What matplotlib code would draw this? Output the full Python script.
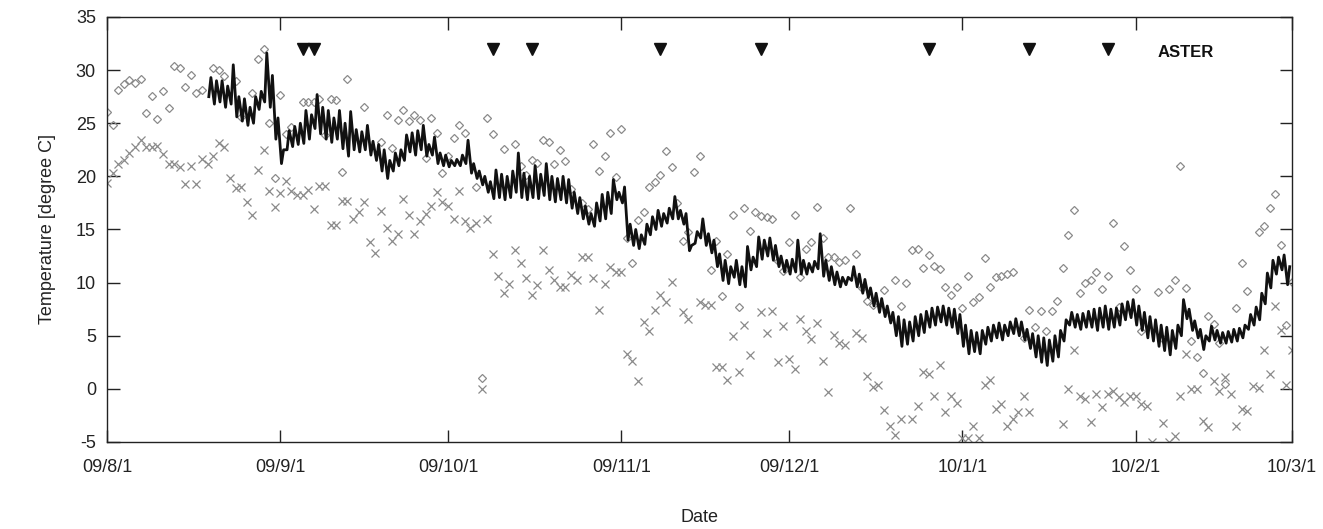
import numpy as np
import matplotlib
matplotlib.use("Agg")
import matplotlib.pyplot as plt

plt.rcParams['font.family'] = ['Liberation Sans', 'DejaVu Sans']
plt.rcParams['axes.unicode_minus'] = False

START = np.datetime64('2009-08-01')

# daily max air temperature (diamonds): day offset from 2009-08-01, value
max_days = [0, 1, 2, 3, 4, 5, 6, 7, 8, 9, 10, 11, 12, 13, 14, 15, 16, 17, 19, 20,
            21, 23, 24, 26, 27, 28, 29, 30, 31, 32, 33, 35, 36, 37, 38, 39, 40, 41, 42, 43,
            46, 49, 50, 51, 52, 53, 54, 55, 56, 57, 58, 59, 60, 61, 62, 63, 64, 66, 67, 68,
            69, 71, 73, 74, 75, 76, 77, 78, 79, 80, 81, 82, 83, 85, 86, 87, 88, 89, 90, 91,
            92, 93, 94, 95, 96, 97, 98, 99, 100, 101, 102, 103, 104, 105, 106, 108, 109, 110, 111, 112,
            113, 114, 115, 116, 117, 118, 119, 120, 121, 122, 123, 124, 125, 126, 127, 128, 129, 130, 131, 132,
            133, 134, 135, 136, 137, 139, 141, 142, 143, 144, 145, 146, 147, 148, 149, 150, 151, 152, 153, 154,
            155, 156, 157, 158, 159, 160, 161, 162, 164, 165, 166, 167, 168, 169, 170, 171, 172, 173, 174, 175,
            176, 177, 178, 179, 180, 181, 182, 183, 184, 185, 188, 189, 190, 191, 192, 193, 194, 195, 196, 197,
            198, 199, 200, 202, 203, 204, 206, 207, 208, 209, 210, 211, 212]
max_vals = [26.1, 24.8, 28.1, 28.7, 29.1, 28.8, 29.2, 26.0, 27.6, 25.4, 28.0, 26.4, 30.4, 30.2, 28.4, 29.5, 27.8, 28.1, 30.2, 30.0,
            29.4, 29.0, 25.6, 27.8, 31.0, 32.0, 25.0, 19.8, 27.7, 24.0, 24.6, 27.0, 27.0, 27.0, 27.3, 23.9, 27.3, 27.2, 20.4, 29.2,
            26.5, 23.2, 25.8, 22.7, 25.3, 26.2, 25.2, 25.8, 25.3, 21.7, 25.5, 24.1, 20.3, 21.9, 23.6, 24.8, 24.1, 19.0, 1.0, 25.5,
            24.0, 22.6, 23.0, 21.0, 20.1, 21.5, 21.3, 23.4, 23.2, 21.2, 22.5, 21.4, 18.8, 17.5, 16.9, 23.0, 20.5, 21.9, 24.1, 19.9,
            24.5, 14.2, 11.8, 15.9, 16.6, 19.0, 19.5, 20.1, 22.4, 20.9, 17.5, 13.9, 14.8, 20.4, 21.9, 11.2, 13.9, 8.7, 12.7, 16.4,
            7.7, 17.0, 14.9, 16.6, 16.3, 16.2, 16.0, 12.0, 11.1, 13.8, 16.4, 10.5, 13.2, 13.8, 17.1, 14.2, 12.4, 12.4, 11.9, 12.1,
            17.0, 12.7, 9.5, 8.3, 7.9, 9.3, 10.2, 7.8, 10.0, 13.1, 13.2, 11.4, 12.6, 11.6, 11.3, 9.6, 8.8, 9.6, 7.6, 10.6,
            8.2, 8.6, 12.3, 9.6, 10.5, 10.6, 10.8, 11.0, 4.8, 7.4, 5.8, 7.3, 5.4, 7.3, 8.3, 11.4, 14.5, 16.8, 9.0, 10.0,
            10.2, 11.0, 9.4, 10.6, 15.6, 7.7, 13.4, 11.2, 9.4, 5.4, 9.1, 4.7, 9.4, 10.2, 21.0, 9.5, 4.5, 3.0, 1.5, 6.9,
            6.1, 4.3, 0.5, 7.6, 11.8, 9.2, 14.8, 15.3, 17.0, 18.3, 13.5, 6.0, 10.1]

# daily min air temperature (crosses)
min_days = [0, 1, 2, 3, 4, 5, 6, 7, 8, 9, 10, 11, 12, 13, 14, 15, 16, 17, 18, 19,
            20, 21, 22, 23, 24, 25, 26, 27, 28, 29, 30, 31, 32, 33, 34, 35, 36, 37, 38, 39,
            40, 41, 42, 43, 44, 45, 46, 47, 48, 49, 50, 51, 52, 53, 54, 55, 56, 57, 58, 59,
            60, 61, 62, 63, 64, 65, 66, 67, 68, 69, 70, 71, 72, 73, 74, 75, 76, 77, 78, 79,
            80, 81, 82, 83, 84, 85, 86, 87, 88, 89, 90, 91, 92, 93, 94, 95, 96, 97, 98, 99,
            100, 101, 103, 104, 106, 107, 108, 109, 110, 111, 112, 113, 114, 115, 117, 118, 119, 120, 121, 122,
            123, 124, 125, 126, 127, 128, 129, 130, 131, 132, 134, 135, 136, 137, 138, 139, 140, 141, 142, 144,
            145, 146, 147, 148, 149, 150, 151, 152, 153, 154, 155, 156, 157, 158, 159, 160, 161, 162, 163, 164,
            165, 171, 172, 173, 174, 175, 176, 177, 178, 179, 180, 181, 182, 183, 184, 185, 186, 187, 189, 190,
            191, 192, 193, 194, 195, 196, 197, 198, 199, 200, 201, 202, 203, 204, 205, 206, 207, 208, 209, 210,
            211, 212]
min_vals = [19.4, 20.3, 21.2, 21.5, 22.2, 22.8, 23.4, 22.8, 22.8, 22.9, 22.1, 21.2, 21.2, 20.9, 19.3, 21.0, 19.3, 21.6, 21.2, 21.9,
            23.1, 22.8, 19.8, 18.9, 19.0, 17.6, 16.4, 20.6, 22.5, 18.6, 17.1, 18.4, 19.6, 18.6, 18.2, 18.2, 18.7, 16.9, 19.1, 19.1,
            15.4, 15.4, 17.7, 17.7, 16.0, 16.6, 17.6, 13.8, 12.8, 16.7, 15.1, 13.9, 14.6, 17.9, 16.4, 14.6, 15.8, 16.5, 17.2, 18.5,
            17.6, 17.2, 16.0, 18.6, 15.8, 15.1, 15.6, 0.0, 16.0, 12.7, 10.6, 9.0, 9.9, 13.1, 11.8, 10.4, 8.8, 9.8, 13.1, 11.2,
            10.2, 9.6, 9.6, 10.7, 10.2, 12.4, 12.4, 10.4, 7.4, 9.9, 11.5, 11.0, 11.0, 3.3, 2.6, 0.7, 6.3, 5.4, 7.4, 8.8,
            8.2, 10.1, 7.2, 6.6, 8.2, 7.9, 7.9, 2.1, 2.1, 0.8, 5.0, 1.6, 6.0, 3.2, 7.2, 5.3, 7.3, 2.5, 5.9, 2.8,
            1.9, 6.6, 5.4, 4.7, 6.2, 2.6, -0.3, 5.1, 4.3, 4.1, 5.3, 4.8, 1.2, 0.2, 0.4, -2.0, -3.5, -4.3, -2.8, -2.8,
            -1.6, 1.6, 1.4, -0.7, 2.2, -2.2, -0.7, -1.3, -4.6, -4.6, -3.5, -4.6, 0.4, 0.8, -1.9, -1.4, -3.5, -2.8, -2.2, -0.7,
            -2.2, -3.3, 0.0, 3.7, -0.7, -1.0, -3.1, -0.5, -1.7, -0.5, -0.2, -0.8, -1.2, -0.7, -0.7, -1.4, -1.6, -5.0, -3.2, -5.0,
            -4.4, -0.7, 3.3, 0.0, 0.0, -3.0, -3.6, 0.7, -0.2, 1.1, -0.5, -3.5, -1.9, -2.1, 0.3, 0.1, 3.7, 1.4, 7.8, 5.5,
            0.4, 3.7]

# continuous record: daily low / high of the curve, days 18..211
line_first_day = 18
line_lo = [27.5, 26.8, 27.0, 26.5, 26.8, 25.6, 25.2, 24.8, 25.0, 26.3,   # 18-27
           27.0, 26.5, 23.5, 21.2, 22.5, 22.8, 23.0, 23.1, 23.5, 24.5,   # 28-37
           24.0, 23.5, 23.2, 23.5, 22.6, 21.9, 22.5, 22.3, 22.5, 22.0,   # 38-47
           21.5, 20.5, 19.8, 20.5, 21.0, 21.5, 22.3, 22.0, 22.5, 21.9,   # 48-57
           22.0, 21.2, 21.0, 20.9, 21.0, 21.0, 21.2, 20.3, 19.8, 19.2,   # 58-67
           18.5, 17.9, 18.0, 17.8, 18.0, 18.5, 18.0, 17.8, 18.0, 17.9,   # 68-77
           18.2, 17.8, 17.6, 17.8, 17.5, 17.0, 16.5, 16.0, 15.5, 15.3,   # 78-87
           15.8, 16.0, 16.5, 17.8, 17.5, 14.0, 13.5, 13.2, 13.6, 14.5,   # 88-97
           15.0, 15.3, 15.6, 16.0, 16.0, 15.5, 13.0, 13.7, 14.2, 13.5,   # 98-107
           12.8, 11.5, 10.2, 9.9, 10.5, 9.8, 9.6, 11.2, 11.5, 12.2,      # 108-117
           12.5, 12.1, 11.5, 11.0, 10.8, 11.0, 10.8, 10.8, 11.0, 11.3,   # 118-127
           10.6, 10.2, 9.8, 9.6, 9.8, 10.2, 9.6, 9.0, 8.6, 7.8,          # 128-137
           7.2, 6.8, 6.2, 5.0, 4.0, 4.2, 4.5, 5.0, 5.3, 5.8,             # 138-147
           6.0, 6.3, 6.0, 5.8, 5.2, 4.0, 3.3, 3.5, 3.3, 4.2,             # 148-157
           4.5, 4.8, 4.6, 5.0, 5.2, 5.0, 4.6, 3.8, 3.0, 2.5,             # 158-167
           2.2, 2.6, 3.0, 4.5, 6.0, 5.8, 5.6, 5.8, 5.8, 5.5,             # 168-177
           5.8, 5.6, 5.8, 6.0, 6.5, 6.7, 6.0, 5.5, 4.8, 4.5,             # 178-187
           4.0, 3.6, 3.2, 3.8, 5.0, 6.6, 5.5, 4.8, 3.7, 4.5,             # 188-197
           4.6, 4.3, 4.3, 4.4, 4.5, 4.8, 5.6, 6.0, 6.5, 8.0,             # 198-207
           9.5, 10.8, 11.2, 9.8]                                         # 208-211
line_hi = [29.3, 29.0, 29.0, 28.5, 30.5, 27.5, 27.3, 26.5, 27.5, 28.0,
           31.6, 29.5, 25.5, 22.5, 24.3, 24.7, 25.0, 26.2, 25.8, 27.7,
           26.5, 26.2, 25.5, 26.2, 25.0, 26.1, 24.4, 24.2, 24.8, 23.3,
           23.0, 22.5, 21.5, 22.2, 22.5, 23.9, 24.1, 24.3, 24.8, 23.0,
           23.7, 22.2, 22.0, 21.5, 21.6, 22.0, 23.4, 21.2, 20.5, 20.0,
           19.5, 20.6, 20.2, 20.0, 20.5, 22.2, 20.3, 20.0, 21.0, 20.2,
           21.2, 20.0, 19.8, 20.0, 19.7, 18.5, 18.0, 17.2, 16.5, 17.5,
           18.3, 18.5, 19.7, 18.5, 19.0, 15.5, 15.0, 14.5, 15.5, 16.2,
           16.8, 16.5, 17.0, 18.1, 16.8, 16.5, 13.5, 14.8, 16.0, 14.6,
           14.0, 12.7, 12.1, 11.5, 12.1, 11.5, 13.4, 12.4, 14.3, 14.0,
           14.2, 13.5, 12.5, 12.1, 12.2, 14.0, 12.1, 11.8, 12.0, 14.6,
           12.1, 11.5, 11.0, 10.5, 10.5, 11.5, 10.8, 10.3, 9.5, 9.0,
           8.5, 7.8, 7.2, 6.8, 6.5, 6.3, 6.8, 7.0, 7.3, 7.6,
           7.7, 7.8, 7.6, 7.5, 7.0, 6.0, 5.5, 5.3, 5.5, 5.8,
           6.0, 6.2, 6.0, 6.3, 6.6, 6.3, 5.6, 5.2, 5.0, 4.8,
           4.6, 5.0, 5.5, 6.5, 7.2, 7.0, 7.1, 7.3, 7.5, 7.6,
           7.8, 7.5, 7.6, 8.0, 8.2, 8.4, 7.8, 7.2, 6.8, 6.5,
           6.0, 5.8, 5.5, 6.0, 8.4, 7.5, 6.4, 5.6, 5.0, 5.9,
           5.5, 5.3, 5.4, 5.6, 5.7, 6.0, 7.0, 7.7, 9.0, 10.9,
           12.1, 12.4, 12.6, 11.5]

# ASTER overpass days
aster_days = [35, 37, 69, 76, 99, 117, 147, 165, 179]
aster_level = 32.0

month_ticks = ['2009-08-01', '2009-09-01', '2009-10-01', '2009-11-01',
               '2009-12-01', '2010-01-01', '2010-02-01', '2010-03-01']
month_labels = ['09/8/1', '09/9/1', '09/10/1', '09/11/1',
                '09/12/1', '10/1/1', '10/2/1', '10/3/1']


def to_dates(days, hour=0):
    return START + (np.asarray(days) * 24 + hour).astype('timedelta64[h]')


fig = plt.figure(figsize=(13.23, 5.29), dpi=100)
ax = fig.add_axes([0.0809, 0.1645, 0.8957, 0.8034])

# continuous curve: low in the early morning, high in the afternoon
ldays = np.arange(line_first_day, line_first_day + len(line_lo))
t_line = np.column_stack([to_dates(ldays, 5), to_dates(ldays, 14)]).ravel()
v_line = np.column_stack([line_lo, line_hi]).ravel()
ax.plot(t_line, v_line, color='#111111', lw=2.0, zorder=3)

ax.plot(to_dates(max_days), max_vals, linestyle='none', marker='D', ms=4.2,
        mfc='none', mec='#8a8a8a', mew=0.9, zorder=2)
ax.plot(to_dates(min_days), min_vals, linestyle='none', marker='x', ms=5.5,
        mec='#8a8a8a', mew=0.9, zorder=2)

ax.plot(to_dates(aster_days), [aster_level] * len(aster_days), linestyle='none',
        marker='v', ms=9, color='#111111', zorder=4)
ax.text(to_dates(188), 31.7, 'ASTER', fontsize=12, fontweight='bold',
        va='center', ha='left', color='#111111')

ax.set_xlim(np.datetime64('2009-08-01'), np.datetime64('2010-03-01'))
ax.set_ylim(-5, 35)
ax.set_yticks(np.arange(-5, 36, 5))
ax.set_xticks([np.datetime64(m) for m in month_ticks])
ax.set_xticklabels(month_labels)

ax.tick_params(direction='in', length=9, width=1.0, top=True, right=True,
               labelsize=13, colors='#222222', pad=12)
ax.tick_params(axis='y', pad=8)
for s in ax.spines.values():
    s.set_linewidth(1.0)
    s.set_color('#222222')

ax.set_xlabel('Date', fontsize=13, labelpad=24, color='#222222')
ax.set_ylabel('Temperature [degree C]', fontsize=13, labelpad=14, color='#222222')

fig.savefig('out.png', dpi=100)
